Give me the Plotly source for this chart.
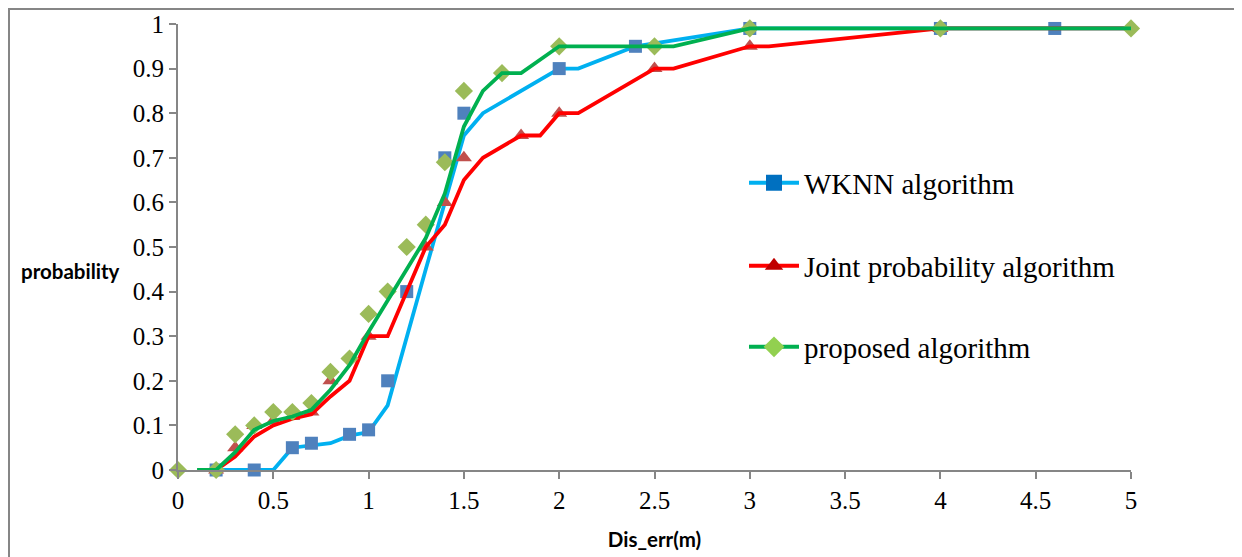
import plotly.graph_objects as go

# ---- data ----
wknn_marker_x = [0.2, 0.4, 0.6, 0.7, 0.9, 1.0, 1.1, 1.2, 1.4, 1.5, 2.0, 2.4, 3.0, 4.0, 4.6]
wknn_marker_y = [0, 0, 0.05, 0.06, 0.08, 0.09, 0.2, 0.4, 0.7, 0.8, 0.9, 0.95, 0.99, 0.99, 0.99]
wknn_line_x = [0.2, 0.5, 0.6, 0.7, 0.8, 0.9, 1.0, 1.1, 1.2, 1.3, 1.4, 1.5, 1.6, 2.0, 2.1, 2.4, 3.0, 4.0, 5.0]
wknn_line_y = [0, 0, 0.05, 0.055, 0.06, 0.077, 0.085, 0.145, 0.3, 0.45, 0.6, 0.75, 0.8, 0.9, 0.9, 0.95, 0.99, 0.99, 0.99]

joint_marker_x = [0.2, 0.3, 0.4, 0.5, 0.6, 0.7, 0.8, 1.0, 1.3, 1.4, 1.5, 1.8, 2.0, 2.5, 3.0, 4.0]
joint_marker_y = [0, 0.05, 0.1, 0.11, 0.12, 0.13, 0.2, 0.3, 0.5, 0.6, 0.7, 0.75, 0.8, 0.9, 0.95, 0.99]
joint_line_x = [0.2, 0.3, 0.4, 0.5, 0.6, 0.7, 0.8, 0.9, 1.0, 1.1, 1.2, 1.3, 1.4, 1.5, 1.6, 1.8, 1.9,
                2.0, 2.1, 2.5, 2.6, 3.0, 3.1, 4.0, 5.0]
joint_line_y = [0, 0.03, 0.075, 0.1, 0.115, 0.125, 0.165, 0.2, 0.3, 0.3, 0.4, 0.5, 0.55, 0.65, 0.7, 0.75, 0.75,
                0.8, 0.8, 0.9, 0.9, 0.95, 0.95, 0.99, 0.99]

prop_marker_x = [0, 0.2, 0.3, 0.4, 0.5, 0.6, 0.7, 0.8, 0.9, 1.0, 1.1, 1.2, 1.3, 1.4, 1.5, 1.7, 2.0, 2.5, 3.0, 4.0, 5.0]
prop_marker_y = [0, 0, 0.08, 0.1, 0.13, 0.13, 0.15, 0.22, 0.25, 0.35, 0.4, 0.5, 0.55, 0.69, 0.85, 0.89, 0.95, 0.95,
                 0.99, 0.99, 0.99]
prop_line_x = [0.1, 0.2, 0.3, 0.4, 0.5, 0.6, 0.7, 0.8, 0.9, 1.0, 1.1, 1.2, 1.3, 1.4, 1.5, 1.6, 1.7, 1.8, 2.0, 2.6,
               3.0, 5.0]
prop_line_y = [0, 0, 0.04, 0.09, 0.11, 0.12, 0.135, 0.18, 0.235, 0.31, 0.38, 0.45, 0.52, 0.62, 0.77, 0.85, 0.89,
               0.89, 0.95, 0.95, 0.99, 0.99]

series_names = ["WKNN algorithm", "Joint probability algorithm", "proposed algorithm"]
x_ticks = [0, 0.5, 1, 1.5, 2, 2.5, 3, 3.5, 4, 4.5, 5]
y_ticks = [0, 0.1, 0.2, 0.3, 0.4, 0.5, 0.6, 0.7, 0.8, 0.9, 1]

# ---- styles ----
SERIF = "Liberation Serif"
SANS = "Lato"

fig = go.Figure()

def add_series(lx, ly, mx, my, line_color, mk_color, symbol, msize, marker_first=False):
    line = go.Scatter(x=lx, y=ly, mode="lines", line=dict(color=line_color, width=3.8),
                      showlegend=False, hoverinfo="skip", cliponaxis=False)
    mk = go.Scatter(x=mx, y=my, mode="markers",
                    marker=dict(symbol=symbol, size=msize, color=mk_color, line=dict(width=0)),
                    showlegend=False, cliponaxis=False)
    if marker_first:
        fig.add_trace(mk); fig.add_trace(line)
    else:
        fig.add_trace(line); fig.add_trace(mk)

add_series(wknn_line_x, wknn_line_y, wknn_marker_x, wknn_marker_y, "#00B0F0", "#4F81BD", "square", 13)
add_series(joint_line_x, joint_line_y, joint_marker_x, joint_marker_y, "#FF0000", "#C0504D", "triangle-up", 14,
           marker_first=True)
add_series(prop_line_x, prop_line_y, prop_marker_x, prop_marker_y, "#00B050", "#9BBB59", "diamond", 14,
           marker_first=True)

# legend entries (one legend per entry to match the wide spacing)
leg_specs = [
    (series_names[0], "#00B0F0", "#0070C0", "square", "legend"),
    (series_names[1], "#FF0000", "#C00000", "triangle-up", "legend2"),
    (series_names[2], "#00B050", "#92D050", "diamond", "legend3"),
]
for name, lc, mc, sym, lg in leg_specs:
    fig.add_trace(go.Scatter(x=[None], y=[None], mode="lines+markers", name=name,
                             line=dict(color=lc, width=4),
                             marker=dict(symbol=sym, size=16, color=mc),
                             legend=lg, showlegend=True))

# page has an 8px body margin: figure is sized/placed so the plot lands where the reference has it
OFF = 8
W, H = 1242 - OFF, 557 - OFF
L, T = 178 - OFF, 24 - OFF
R = W - (1131 - OFF)
B = H - (470 - OFF)
pw, ph = W - L - R, H - T - B

def px_x(p):  # reference page px -> paper
    return (p - OFF - L) / pw

def px_y(p):
    return (H - B - (p - OFF)) / ph

legend_common = dict(xanchor="left", yanchor="middle", bgcolor="rgba(0,0,0,0)",
                     font=dict(family=SERIF, size=29, color="black"), itemwidth=50)
axis_common = dict(ticks="outside", ticklen=7, tickwidth=1.5, tickcolor="#868686",
                   showline=True, linecolor="#868686", linewidth=2, showgrid=False, zeroline=False,
                   automargin=False, tickfont=dict(family=SERIF, size=25, color="black"))
fig.update_layout(
    width=W, height=H,
    margin=dict(l=L, r=R, t=T, b=B, autoexpand=False),
    paper_bgcolor="white", plot_bgcolor="white",
    legend=dict(x=px_x(744), y=px_y(183), **legend_common),
    legend2=dict(x=px_x(744), y=px_y(266), **legend_common),
    legend3=dict(x=px_x(744), y=px_y(347), **legend_common),
    xaxis=dict(range=[0, 5], tickmode="array", tickvals=x_ticks, ticktext=[f"{v:g}" for v in x_ticks],
               title=dict(text="<b>Dis_err(m)</b>", font=dict(family=SANS, size=20.5, color="black"), standoff=20),
               **axis_common),
    yaxis=dict(range=[0, 1], tickmode="array", tickvals=y_ticks, ticktext=[f"{v:g}" for v in y_ticks],
               **axis_common),
    annotations=[dict(text="<b>probability</b>", xref="paper", yref="paper", x=px_x(19), y=px_y(271),
                      xanchor="left", yanchor="middle", showarrow=False,
                      font=dict(family=SANS, size=20.5, color="black"))],
    shapes=[dict(type="rect", xref="paper", yref="paper", x0=px_x(9), x1=px_x(1239), y0=px_y(620), y1=px_y(9),
                 line=dict(color="#868686", width=2), fillcolor="rgba(0,0,0,0)", layer="below")],
)

fig.write_html("out.html")
